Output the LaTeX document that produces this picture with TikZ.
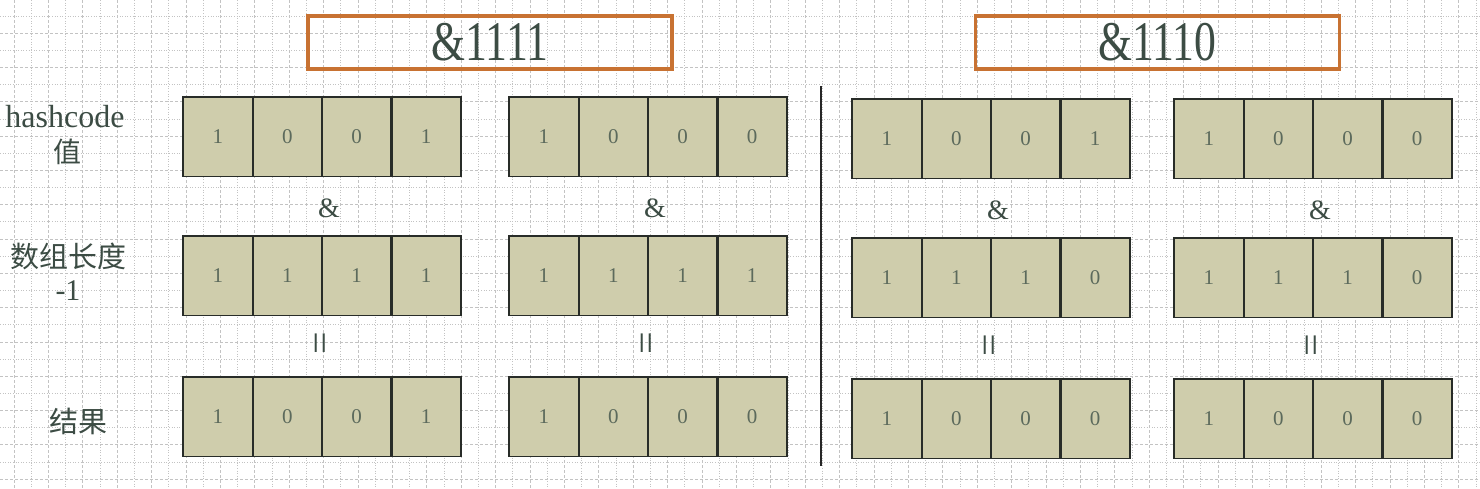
\documentclass[tikz,border=0pt]{standalone}
\usepackage{fontspec}
\setmainfont{Liberation Serif}
\newfontfamily\cjk{Noto Sans CJK SC}
\definecolor{cellfill}{RGB}{207,205,172}
\definecolor{cellline}{RGB}{40,44,40}
\definecolor{txt}{RGB}{60,76,68}
\definecolor{digit}{RGB}{92,106,92}
\definecolor{orangeb}{RGB}{200,114,50}
\definecolor{gridc}{RGB}{195,195,195}
\begin{document}
\begin{tikzpicture}[x=1pt,y=-1pt,
  gdash/.style={gridc,line width=0.8pt,dash pattern=on 3pt off 2pt},
  gdot/.style={gridc,line width=0.8pt,dash pattern=on 1pt off 1.6pt},
  bitcell/.style={fill=cellfill,minimum width=69.4pt,minimum height=79pt,inner sep=0pt,anchor=north west,text=digit,font=\fontsize{21}{24}\selectfont},
  celledge/.style={draw=cellline,line width=1.8pt},
  titlebox/.style={draw=orangeb,line width=3.5pt,minimum width=364pt,minimum height=53pt,inner sep=0pt,text=txt,font=\fontsize{56}{60}\selectfont},
  rowlabel/.style={text=txt,inner sep=0pt,align=center},
  opsym/.style={text=txt,inner sep=0pt,font=\fontsize{28}{30}\selectfont},
  divider/.style={draw=black!85,line width=1.5pt}]
\useasboundingbox (0,0) rectangle (1480,488);
\fill[white] (0,0) rectangle (1480,488);
% grid
\foreach \k in {0,...,43} {
  \draw[gdash] ({14+34.4*\k},0) -- ({14+34.4*\k},488);
  \draw[gdot] ({31.2+34.4*\k},0) -- ({31.2+34.4*\k},488);
}
\foreach \k in {0,...,14} {
  \draw[gdot] (0,{16+34.3*\k}) -- (1480,{16+34.3*\k});
  \draw[gdash] (0,{33.2+34.3*\k}) -- (1480,{33.2+34.3*\k});
}
% title boxes
\node[titlebox] (t1) at (490,42.5) {\scalebox{0.78}[1]{\&1111}};
\node[titlebox] (t2) at (1157.5,42.5) {\scalebox{0.78}[1]{\&1110}};
% divider
\coordinate (dvtop) at (821,86);
\coordinate (dvbot) at (821,466);
\draw[divider] (dvtop) -- (dvbot);
% row labels
\node[rowlabel,font=\fontsize{32}{34}\selectfont] (lbhash) at (65,117) {hashcode};
\node[rowlabel,font=\cjk\fontsize{28}{30}\selectfont] (lbzhi) at (67,152) {值};
\node[rowlabel,font=\cjk\fontsize{29}{30}\selectfont] (lblen) at (68,256) {数组长度};
\node[rowlabel,font=\fontsize{30}{30}\selectfont] (lbminus) at (68,291) {-1};
\node[rowlabel,font=\cjk\fontsize{29}{30}\selectfont] (lbres) at (78,421) {结果};
% bit groups
\foreach \g/\gx/\gy/\ra/\rb/\rc in {
  1/183/97/{1,0,0,1}/{1,1,1,1}/{1,0,0,1},
  2/509/97/{1,0,0,0}/{1,1,1,1}/{1,0,0,0},
  3/852/99/{1,0,0,1}/{1,1,1,0}/{1,0,0,0},
  4/1174/99/{1,0,0,0}/{1,1,1,0}/{1,0,0,0}} {
  \foreach \v [count=\c] in \ra {
    \node[bitcell] (g\g r1c\c) at ({\gx+69.4*(\c-1)},\gy) {\v};
  }
  \foreach \v [count=\c] in \rb {
    \node[bitcell] (g\g r2c\c) at ({\gx+69.4*(\c-1)},{\gy+139}) {\v};
  }
  \foreach \v [count=\c] in \rc {
    \node[bitcell] (g\g r3c\c) at ({\gx+69.4*(\c-1)},{\gy+280}) {\v};
  }
  \foreach \r in {1,2,3} {
    \foreach \c in {1,...,4} {
      \draw[celledge] (g\g r\r c\c.north west) rectangle (g\g r\r c\c.south east);
    }
  }
  \node[opsym] (amp\g) at ({\gx+146},{\gy+111}) {\&};
  \node[opsym,rotate=90,font=\fontsize{40}{40}\selectfont] (eq\g) at ({\gx+141},{\gy+246}) {=};
}
\end{tikzpicture}
\end{document}
